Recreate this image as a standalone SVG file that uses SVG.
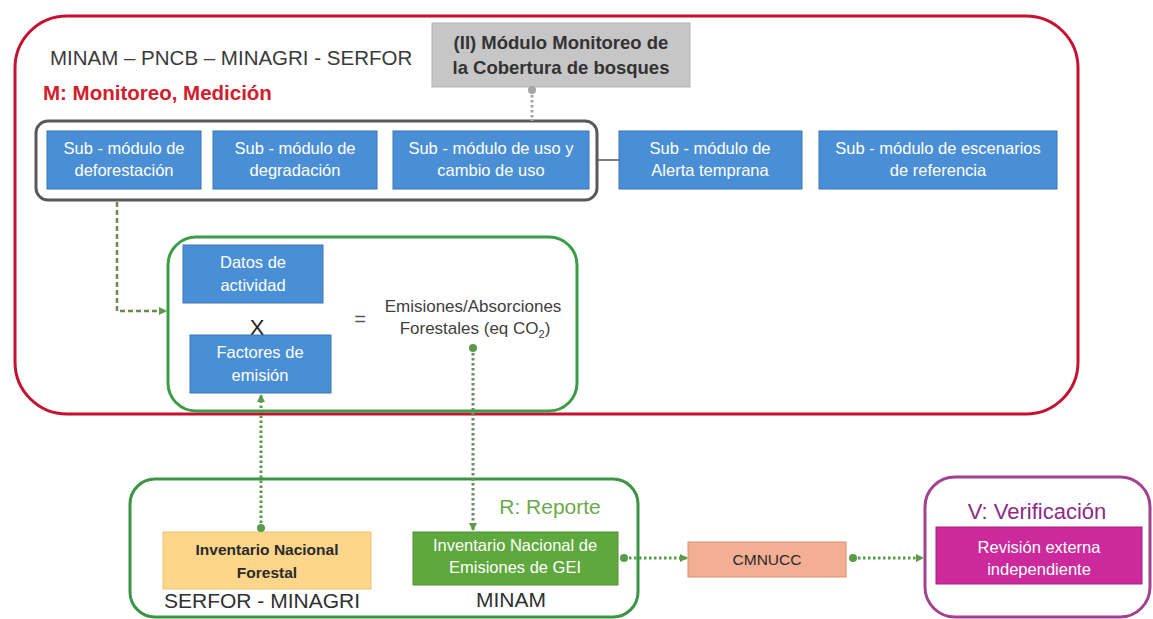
<svg xmlns="http://www.w3.org/2000/svg" width="1153" height="619" viewBox="0 0 1153 619">
<defs>
<style>
text{font-family:"Liberation Sans",Arial,sans-serif;}
.blue{fill:#4a8fd6;stroke:#3a76b8;stroke-width:1;}
.wt{fill:#ffffff;font-size:16.5px;text-anchor:middle;}
.dot{fill:none;stroke-width:3;stroke-dasharray:2.5 2.5;}
.g{stroke:#5a9a4a;}
</style>
<marker id="arr" viewBox="0 0 8 8" refX="7" refY="4" markerWidth="8" markerHeight="8" markerUnits="userSpaceOnUse" orient="auto"><path d="M0,0 L8,4 L0,8 z" fill="#5a9a4a"/></marker>
<marker id="dotg" viewBox="0 0 8 8" refX="4" refY="4" markerWidth="8" markerHeight="8" markerUnits="userSpaceOnUse"><circle cx="4" cy="4" r="4" fill="#5a9a4a"/></marker>
<marker id="dotgr" viewBox="0 0 8 8" refX="4" refY="4" markerWidth="8" markerHeight="8" markerUnits="userSpaceOnUse"><circle cx="4" cy="4" r="4" fill="#a6a6a6"/></marker>
</defs>
<rect width="1153" height="619" fill="#ffffff"/>

<g id="frame-M">
<rect x="15" y="16" width="1063" height="398" rx="52" fill="none" stroke="#c41230" stroke-width="3"/>
<text x="50" y="65" font-size="20.5" fill="#3a3a3a">MINAM – PNCB – MINAGRI - SERFOR</text>
<text x="43" y="100" font-size="20.5" font-weight="bold" fill="#d0202c">M: Monitoreo, Medición</text>
</g>

<g id="modulo-II">
<rect x="432" y="23" width="258" height="64" fill="#c6c6c6" stroke="#b3b3b3" stroke-width="1"/>
<text x="561" y="49" font-size="18.5" font-weight="bold" fill="#333" text-anchor="middle">(II) Módulo Monitoreo de</text>
<text x="561" y="74" font-size="18.5" font-weight="bold" fill="#333" text-anchor="middle">la Cobertura de bosques</text>
</g>

<g id="group-submodulos">
<rect x="36" y="121" width="561" height="79" rx="12" fill="none" stroke="#595959" stroke-width="3"/>
</g>

<g id="sub-deforestacion">
<rect class="blue" x="47" y="131" width="154" height="58"/>
<text class="wt" x="124" y="154">Sub - módulo de</text>
<text class="wt" x="124" y="176">deforestación</text>
</g>
<g id="sub-degradacion">
<rect class="blue" x="213" y="131" width="164" height="58"/>
<text class="wt" x="295" y="154">Sub - módulo de</text>
<text class="wt" x="295" y="176">degradación</text>
</g>
<g id="sub-uso">
<rect class="blue" x="393" y="131" width="196" height="58"/>
<text class="wt" x="491" y="154">Sub - módulo de uso y</text>
<text class="wt" x="491" y="176">cambio de uso</text>
</g>
<g id="sub-alerta">
<rect class="blue" x="619" y="131" width="183" height="58"/>
<text class="wt" x="710" y="154">Sub - módulo de</text>
<text class="wt" x="710" y="176">Alerta temprana</text>
</g>
<g id="sub-escenarios">
<rect class="blue" x="819" y="131" width="238" height="58"/>
<text class="wt" x="938" y="154">Sub - módulo de escenarios</text>
<text class="wt" x="938" y="176">de referencia</text>
</g>

<g id="calculo">
<rect x="168" y="237" width="409" height="174" rx="28" fill="none" stroke="#3b9e46" stroke-width="3"/>
<text x="257" y="335" font-size="22" fill="#222" text-anchor="middle">X</text>
<text x="360" y="326" font-size="20" fill="#555" text-anchor="middle">=</text>
<text x="473" y="312" font-size="17" fill="#404040" text-anchor="middle">Emisiones/Absorciones</text>
<text x="475" y="334" font-size="17" fill="#404040" text-anchor="middle">Forestales (eq CO<tspan font-size="11" dy="4">2</tspan><tspan dy="-4">)</tspan></text>
</g>
<g id="datos-actividad">
<rect class="blue" x="183" y="245" width="140" height="58"/>
<text class="wt" x="253" y="268">Datos de</text>
<text class="wt" x="253" y="291">actividad</text>
</g>
<g id="factores-emision">
<rect class="blue" x="190" y="335" width="141" height="58"/>
<text class="wt" x="260" y="358">Factores de</text>
<text class="wt" x="260" y="381">emisión</text>
</g>

<g id="frame-R">
<rect x="130" y="479" width="508" height="138" rx="25" fill="none" stroke="#3b9546" stroke-width="3"/>
<text x="550" y="514" font-size="21" fill="#6aaa4a" text-anchor="middle">R: Reporte</text>
<text x="262" y="608" font-size="21" fill="#303030" text-anchor="middle">SERFOR - MINAGRI</text>
<text x="511" y="607" font-size="21" fill="#303030" text-anchor="middle">MINAM</text>
</g>
<g id="inv-forestal">
<rect x="163" y="532" width="208" height="57" fill="#fdd68a" stroke="#f0c070" stroke-width="1"/>
<text x="267" y="555" font-size="15.5" font-weight="bold" fill="#2a2a2a" text-anchor="middle">Inventario Nacional</text>
<text x="267" y="578" font-size="15.5" font-weight="bold" fill="#2a2a2a" text-anchor="middle">Forestal</text>
</g>
<g id="inv-gei">
<rect x="413" y="532" width="205" height="53" fill="#5fa83e" stroke="#4f9232" stroke-width="1"/>
<text class="wt" x="515" y="551">Inventario Nacional de</text>
<text class="wt" x="515" y="573">Emisiones de GEI</text>
</g>

<g id="cmnucc">
<rect x="688" y="542" width="158" height="35" fill="#f4ae93" stroke="#d98e70" stroke-width="1"/>
<text x="767" y="565" font-size="15.5" fill="#2a2a2a" text-anchor="middle">CMNUCC</text>
</g>

<g id="frame-V">
<rect x="925" y="477" width="225" height="140" rx="30" fill="none" stroke="#a3408f" stroke-width="3"/>
<text x="1037" y="519" font-size="22" fill="#8e2a86" text-anchor="middle">V: Verificación</text>
</g>
<g id="revision">
<rect x="936" y="527" width="206" height="57" fill="#cc2a9c" stroke="#a81e80" stroke-width="1"/>
<text class="wt" x="1039" y="553">Revisión externa</text>
<text class="wt" x="1039" y="575">independiente</text>
</g>

<g id="connectors">
<path d="M532,90 L532,121" class="dot" stroke="#a6a6a6" marker-start="url(#dotgr)"/>
<path d="M597,160 L619,160" fill="none" stroke="#555" stroke-width="1.5"/>
<path d="M117,202 L117,311 L166,311" fill="none" stroke="#6b8a4a" stroke-width="2.5" stroke-dasharray="5 3" marker-end="url(#arr)"/>
<path d="M261,528 L261,395" class="dot g" marker-start="url(#dotg)" marker-end="url(#arr)"/>
<path d="M473,348 L473,530" class="dot" stroke="#6a8a62" marker-start="url(#dotg)" marker-end="url(#arr)"/>
<path d="M624,558 L687,558" class="dot g" marker-start="url(#dotg)" marker-end="url(#arr)"/>
<path d="M853,558 L923,558" class="dot g" marker-start="url(#dotg)" marker-end="url(#arr)"/>
</g>
</svg>
